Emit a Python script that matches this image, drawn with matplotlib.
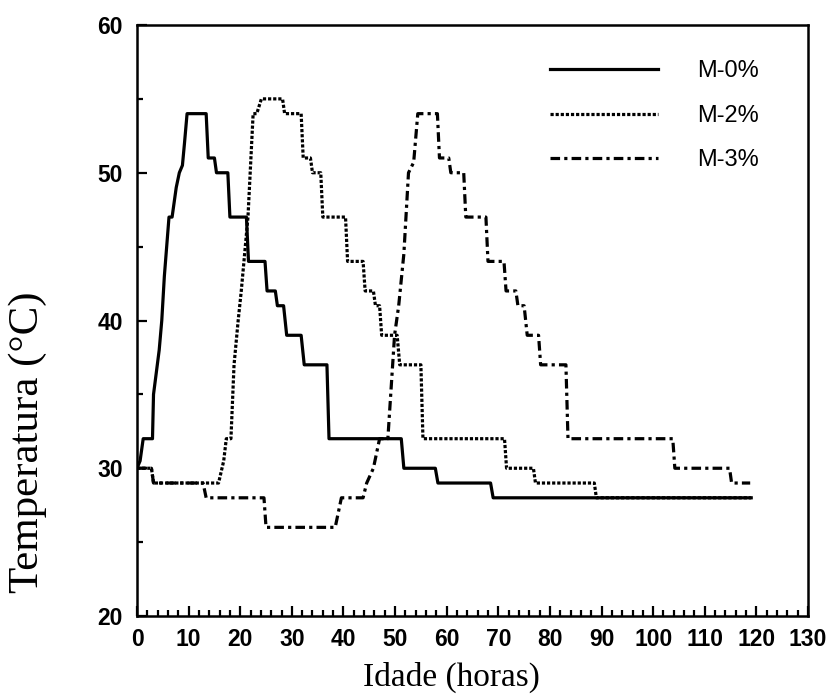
import matplotlib
matplotlib.use("Agg")
import matplotlib.pyplot as plt
from matplotlib.ticker import MultipleLocator

# Idade (horas) / Temperatura (C)
m0_x = [0, 0.6, 1.2, 3.0, 3.2, 4.3, 4.8, 5.3, 6.2, 6.8, 7.6, 8.2, 8.8, 9.2, 9.7, 13.4, 13.8,
        15.0, 15.4, 17.6, 18.0, 21.2, 21.6, 24.8, 25.2, 26.8, 27.2, 28.4, 29.0, 31.8, 32.4,
        36.8, 37.2, 51.2, 51.7, 57.8, 58.3, 68.5, 69.0, 119.0]
m0_y = [30, 30.5, 32, 32, 35, 38, 40, 43, 47, 47, 49, 50, 50.5, 52, 54, 54, 51,
        51, 50, 50, 47, 47, 44, 44, 42, 42, 41, 41, 39, 39, 37,
        37, 32, 32, 30, 30, 29, 29, 28, 28]

m2_x = [0, 2.8, 3.2, 15.8, 16.8, 17.3, 18.2, 18.8, 19.6, 20.2, 21.5, 22.5, 23.2, 24.1,
        28.2, 28.6, 31.8, 32.2, 33.6, 34.0, 35.6, 36.0, 40.4, 40.8, 43.8, 44.2, 45.8, 46.2,
        47.0, 47.4, 50.4, 50.9, 55.0, 55.4, 71.2, 71.6, 76.8, 77.2, 88.6, 89.0, 119.0]
m2_y = [30, 30, 29, 29, 30.5, 32, 32, 37, 40, 42, 47, 54, 54, 55,
        55, 54, 54, 51, 51, 50, 50, 47, 47, 44, 44, 42, 42, 41,
        41, 39, 39, 37, 37, 32, 32, 30, 30, 29, 29, 28, 28]

m3_x = [0, 2.8, 3.2, 12.8, 13.4, 24.6, 25.0, 38.4, 39.6, 43.8, 44.5, 45.8, 47.0, 48.6,
        49.9, 50.7, 51.7, 52.6, 53.6, 54.4, 58.2, 58.6, 60.4, 60.8, 63.3, 63.7, 67.6, 68.0,
        71.1, 71.5, 73.4, 73.8, 75.0, 75.6, 77.8, 78.2, 83.1, 83.5, 103.8, 104.2, 114.8,
        115.2, 118.8]
m3_y = [30, 30, 29, 29, 28, 28, 26, 26, 28, 28, 29, 30, 32, 32,
        39, 41, 44.5, 50, 50.7, 54, 54, 51, 51, 50, 50, 47, 47, 44,
        44, 42, 42, 41, 41, 39, 39, 37, 37, 32, 32, 30, 30,
        29, 29]

labels = ["M-0%", "M-2%", "M-3%"]

fig = plt.figure(figsize=(8.33, 6.99), dpi=100)
ax = fig.add_axes([137/833, 83/699, 671/833, 591/699])

ax.plot(m0_x, m0_y, color="black", lw=2.3, ls="-", label=labels[0])
ax.plot(m2_x, m2_y, color="black", lw=2.3, ls=(0, (1.0, 0.6)), label=labels[1])
ax.plot(m3_x, m3_y, color="black", lw=2.3, ls=(0, (3, 1.3, 1, 1.3)), label=labels[2])

ax.set_xlim(0, 130)
ax.set_ylim(20, 60)
ax.xaxis.set_major_locator(MultipleLocator(10))
ax.xaxis.set_minor_locator(MultipleLocator(2))
ax.yaxis.set_major_locator(MultipleLocator(10))
ax.yaxis.set_minor_locator(MultipleLocator(5))
ax.tick_params(which="both", direction="in", width=1.6, top=False, right=False)
ax.tick_params(axis="x", pad=9)
ax.tick_params(axis="y", pad=10)
ax.tick_params(which="major", length=7)
ax.tick_params(which="minor", length=4)
for lab in ax.get_xticklabels() + ax.get_yticklabels():
    lab.set_fontweight("bold")
    lab.set_family("Liberation Sans")
    lab.set_fontsize(16.5)
for s in ax.spines.values():
    s.set_linewidth(1.8)

leg = ax.legend(loc="upper left", bbox_to_anchor=(0.615, 0.94), frameon=False,
                handlelength=4.6, handletextpad=1.65, labelspacing=0.95,
                borderpad=0, borderaxespad=0,
                prop={"family": "Liberation Sans", "size": 17})

fig.text(28/833, 1 - 442/699, "Temperatura (\u00b0C)", rotation=90, ha="center",
         va="center", fontsize=31, family="Liberation Serif")
fig.text(451/833, 1 - 677/699, "Idade (horas)", ha="center", va="center",
         fontsize=24, family="Liberation Serif")

fig.savefig("out.png", dpi=100)
